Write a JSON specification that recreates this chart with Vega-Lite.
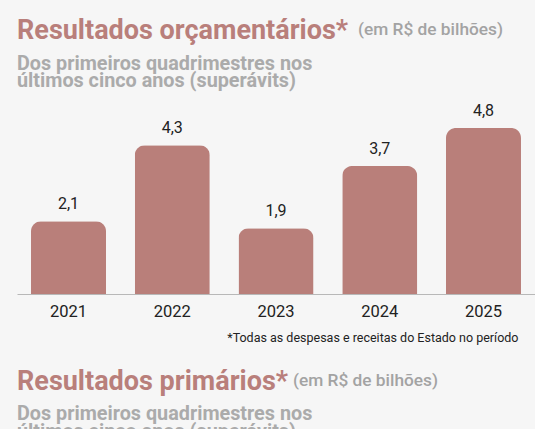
{
  "$schema": "https://vega.github.io/schema/vega-lite/v6.json",
  "background": "#f6f6f6",
  "padding": {"left": 17, "right": 0, "top": 16, "bottom": 0},
  "autosize": {"type": "pad"},
  "config": {
    "font": "Roboto",
    "view": {"stroke": null},
    "locale": {"number": {"decimal": ",", "thousands": ".", "grouping": [3], "currency": ["R$ ", ""]}}
  },
  "datasets": {
    "orcamentario": [
      {"ano": "2021", "valor": 2.1},
      {"ano": "2022", "valor": 4.3},
      {"ano": "2023", "valor": 1.9},
      {"ano": "2024", "valor": 3.7},
      {"ano": "2025", "valor": 4.8}
    ],
    "primario": [
      {"ano": "2021"},
      {"ano": "2022"},
      {"ano": "2023"},
      {"ano": "2024"},
      {"ano": "2025"}
    ]
  },
  "spacing": 23.5,
  "vconcat": [
    {
      "title": {"text": "(em R$ de bilhões)", "anchor": "start", "dx": 341, "dy": 21.5, "fontSize": 17.3, "fontWeight": 500, "color": "#a3a3a3", "offset": 0},
      "vconcat": [
        {
          "title": {
            "text": "Resultados orçamentários*",
            "subtitle": ["Dos primeiros quadrimestres nos", "últimos cinco anos (superávits)"],
            "anchor": "start",
            "fontSize": 27,
            "fontWeight": 700,
            "color": "#b97f7b",
            "subtitleFontSize": 19.8,
            "subtitleFontWeight": 700,
            "subtitleColor": "#ababab",
            "subtitleLineHeight": 17.5,
            "subtitlePadding": 9,
            "offset": 11
          },
          "data": {"name": "orcamentario"},
          "width": 518,
          "height": 173,
          "encoding": {
            "x": {
              "field": "ano",
              "type": "nominal",
              "scale": {"paddingInner": 0.277, "paddingOuter": 0.135},
              "axis": {
                "labelAngle": 0,
                "labelFontSize": 16.5,
                "labelColor": "#222222",
                "labelPadding": 9,
                "ticks": false,
                "domainColor": "#b8b8b8",
                "domainWidth": 1,
                "title": "*Todas as despesas e receitas do Estado no período",
                "titleFontSize": 12.5,
                "titleFontWeight": 400,
                "titleColor": "#222222",
                "titleX": 501,
                "titleAlign": "right",
                "titlePadding": 12
              }
            },
            "y": {
              "field": "valor",
              "type": "quantitative",
              "scale": {"domain": [0, 5]},
              "axis": null
            }
          },
          "layer": [
            {"mark": {"type": "bar", "color": "#b97f7a", "cornerRadiusTopLeft": 10, "cornerRadiusTopRight": 10}},
            {
              "mark": {"type": "text", "baseline": "alphabetic", "dy": -12, "fontSize": 16, "color": "#222222"},
              "encoding": {"text": {"field": "valor", "type": "quantitative", "format": ".1f"}}
            }
          ]
        }
      ]
    },
    {
      "title": {"text": "(em R$ de bilhões)", "anchor": "start", "dx": 276, "dy": 21.5, "fontSize": 17.3, "fontWeight": 500, "color": "#a3a3a3", "offset": 0},
      "vconcat": [
        {
          "title": {
            "text": "Resultados primários*",
            "subtitle": ["Dos primeiros quadrimestres nos", "últimos cinco anos (superávits)"],
            "anchor": "start",
            "fontSize": 27,
            "fontWeight": 700,
            "color": "#b97f7b",
            "subtitleFontSize": 19.8,
            "subtitleFontWeight": 700,
            "subtitleColor": "#ababab",
            "subtitleLineHeight": 17.5,
            "subtitlePadding": 8,
            "offset": 14
          },
          "data": {"name": "primario"},
          "width": 518,
          "height": 120,
          "mark": {"type": "bar", "color": "#b97f7a", "cornerRadiusTopLeft": 10, "cornerRadiusTopRight": 10},
          "encoding": {
            "x": {
              "field": "ano",
              "type": "nominal",
              "scale": {"paddingInner": 0.277, "paddingOuter": 0.135},
              "axis": null
            }
          }
        }
      ]
    }
  ]
}
